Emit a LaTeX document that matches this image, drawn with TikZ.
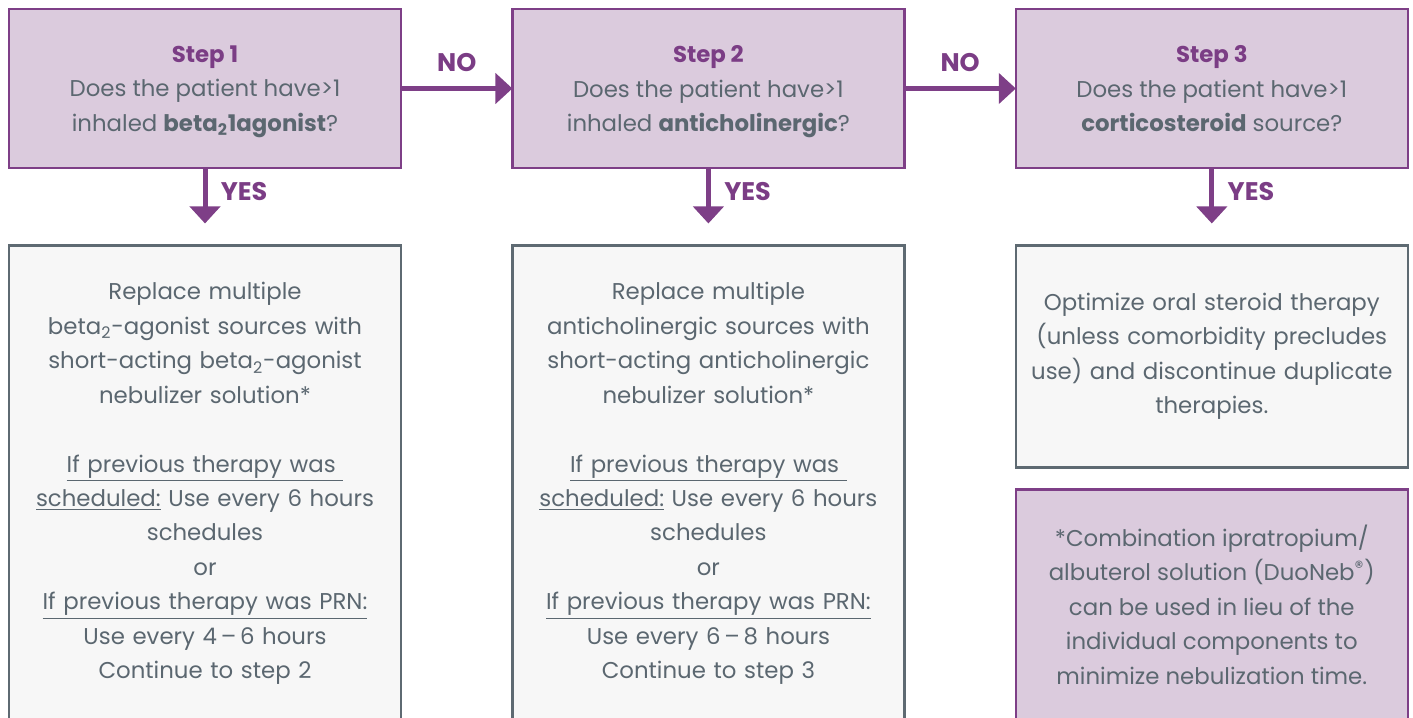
\documentclass[tikz,border=0pt]{standalone}
\usepackage{fontspec}
\setmainfont{Poppins}
\usetikzlibrary{positioning, arrows.meta}
\definecolor{stepfill}{HTML}{DBCBDD}
\definecolor{stepline}{HTML}{7E3F87}
\definecolor{steptext}{HTML}{7B3D85}
\definecolor{bodytext}{HTML}{5B6770}
\definecolor{actionfill}{HTML}{F7F7F7}
\definecolor{actionline}{HTML}{5E6A72}

\begin{document}
\begin{tikzpicture}[
		x=0.02cm, y=-0.02cm,
		node distance=1.55cm and 2.23cm,
		>={Triangle[width=0.6cm,length=0.34cm]},
		font={\fontsize{13}{19.6}\selectfont},
		stepbox/.style={draw=stepline, fill=stepfill, line width=0.05cm, rectangle, minimum width=7.84cm, minimum height=3.18cm, text depth=0pt, align=center, text=bodytext, outer sep=0pt},
		actionbox/.style={draw=actionline, fill=actionfill, line width=0.05cm, rectangle, minimum width=7.84cm, text width=7.4cm, inner ysep=0.74cm, align=center, text=bodytext, outer sep=0pt},
		notebox/.style={stepbox, minimum height=4.6cm},
		flow/.style={->, draw=stepline, line width=0.1cm},
		answer/.style={font={\fontsize{14.5}{17}\selectfont\bfseries}, text=steptext}
	]
	\useasboundingbox (0,0) rectangle (1413,717);

	\node[stepbox] (step1) at (205,88.5) {{\color{steptext}\bfseries Step 1}\\Does the patient have>1\\inhaled \textbf{beta\textsubscript{2}1agonist}?};
	\node[stepbox, right=of step1] (step2) {{\color{steptext}\bfseries Step 2}\\Does the patient have>1\\inhaled \textbf{anticholinergic}?};
	\node[stepbox, right=of step2] (step3) {{\color{steptext}\bfseries Step 3}\\Does the patient have>1\\\textbf{corticosteroid} source?};

	\node[actionbox, below=of step1] (act1) {Replace multiple\\beta\textsubscript{2}-agonist sources with\\short-acting beta\textsubscript{2}-agonist\\nebulizer solution*\\[19.6pt]
		\underline{If previous therapy was\ }\\\underline{scheduled:} Use every 6 hours\\schedules\\or\\\underline{If previous therapy was PRN:}\\Use every 4\,--\,6 hours\\Continue to step 2};
	\node[actionbox, below=of step2] (act2) {Replace multiple\\anticholinergic sources with\\short-acting anticholinergic\\nebulizer solution*\\[19.6pt]
		\underline{If previous therapy was\ }\\\underline{scheduled:} Use every 6 hours\\schedules\\or\\\underline{If previous therapy was PRN:}\\Use every 6\,--\,8 hours\\Continue to step 3};
	\node[actionbox, inner ysep=0.3cm, minimum height=4.44cm, below=of step3] (act3) {Optimize oral steroid therapy\\(unless comorbidity precludes\\use) and discontinue duplicate\\therapies.};
	\node[notebox, below=0.44cm of act3] (note) {*Combination ipratropium/\\albuterol solution (DuoNeb\textsuperscript{\fontsize{10}{10}\selectfont\textregistered})\\can be used in lieu of the\\individual components to\\minimize nebulization time.};

	\draw[flow] (step1) -- node[answer, above=0.16cm] {NO} (step2);
	\draw[flow] (step2) -- node[answer, above=0.16cm] {NO} (step3);
	\draw[flow, shorten >=0.44cm] (step1) -- node[answer, pos=0.3, right=0.15cm] {YES} (act1);
	\draw[flow, shorten >=0.44cm] (step2) -- node[answer, pos=0.3, right=0.15cm] {YES} (act2);
	\draw[flow, shorten >=0.44cm] (step3) -- node[answer, pos=0.3, right=0.15cm] {YES} (act3);
\end{tikzpicture}
\end{document}
